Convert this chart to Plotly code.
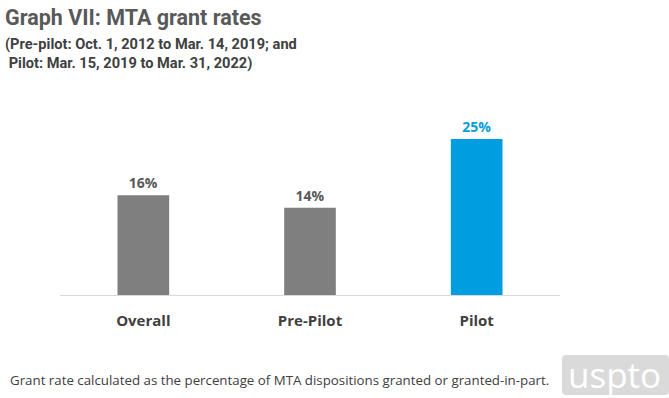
import plotly.graph_objects as go

categories = ["Overall", "Pre-Pilot", "Pilot"]
grant_rates = [16, 14, 25]
value_labels = ["<b>16%</b>", "<b>14%</b>", "<b>25%</b>"]
tick_labels = ["<b>Overall</b>", "<b>Pre-Pilot</b>", "<b>Pilot</b>"]
bar_colors = ["#7f7f7f", "#7f7f7f", "#009ee0"]
label_colors = ["#595959", "#595959", "#009ee0"]

W, H = 669, 398
L, R, T, B = 60, 109, 100, 103
PW, PH = W - L - R, H - T - B


def px(x):
    return (x - L) / PW


def py(y):
    return (H - B - y) / PH


fig = go.Figure()
fig.add_trace(go.Bar(
    x=categories, y=grant_rates,
    marker=dict(color=bar_colors, line=dict(width=0)),
    text=value_labels, textposition="outside",
    textfont=dict(family="Open Sans", size=14, color=label_colors),
    cliponaxis=False, hoverinfo="skip",
))

fig.update_layout(
    width=W, height=H,
    margin=dict(l=L, r=R, t=T, b=B),
    paper_bgcolor="white", plot_bgcolor="white",
    bargap=0.69, showlegend=False,
    font=dict(family="Open Sans", color="#595959"),
    xaxis=dict(showline=True, linecolor="#d9d9d9", linewidth=1, ticks="",
               tickvals=categories, ticktext=tick_labels,
               tickfont=dict(family="Open Sans", size=15, color="#404040"),
               showgrid=False, ticklabelstandoff=12),
    yaxis=dict(range=[0, 31.25], visible=False, showgrid=False),
)

fig.add_annotation(text="<b>Graph VII: MTA grant rates</b>", xref="paper", yref="paper",
                   x=px(3), y=py(18), xanchor="left", yanchor="middle", showarrow=False,
                   font=dict(family="Roboto", size=21.5, color="#595959"))
fig.add_annotation(text="<b>(Pre-pilot: Oct. 1, 2012 to Mar. 14, 2019; and<br> Pilot: Mar. 15, 2019 to Mar. 31, 2022)</b>",
                   xref="paper", yref="paper", align="left",
                   x=px(3), y=py(53.5), xanchor="left", yanchor="middle", showarrow=False,
                   font=dict(family="Roboto", size=14.6, color="#404040"))
fig.add_annotation(text="Grant rate calculated as the percentage of MTA dispositions granted or granted-in-part.",
                   xref="paper", yref="paper", x=px(8), y=py(380), xanchor="left", yanchor="middle",
                   showarrow=False, font=dict(family="Open Sans", size=13.3, color="#404040"))
# USPTO logo
fig.add_shape(type="path", xref="paper", yref="paper",
              path=(f"M {px(566)},{py(355)} L {px(665)},{py(355)} Q {px(669)},{py(355)} {px(669)},{py(359)} "
                    f"L {px(669)},{py(391)} Q {px(669)},{py(395)} {px(665)},{py(395)} "
                    f"L {px(566)},{py(395)} Q {px(562)},{py(395)} {px(562)},{py(391)} "
                    f"L {px(562)},{py(359)} Q {px(562)},{py(355)} {px(566)},{py(355)} Z"),
              fillcolor="#dadada", line=dict(width=0), layer="below")
fig.add_annotation(text="uspto", xref="paper", yref="paper", x=px(614), y=py(374),
                   xanchor="center", yanchor="middle", showarrow=False,
                   font=dict(family="Open Sans", size=35, color="white"))

fig.write_html("out.html", config={"displayModeBar": False},
               post_script="document.body.style.margin='0';document.body.style.overflow='hidden';")
